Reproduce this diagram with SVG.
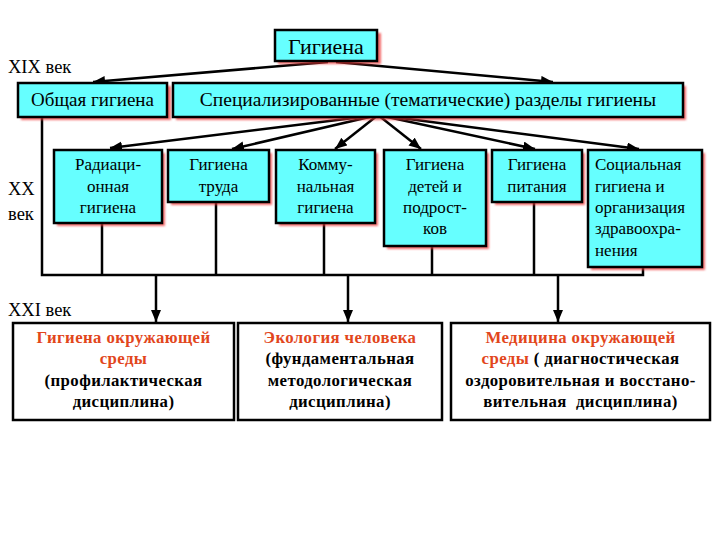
<svg xmlns="http://www.w3.org/2000/svg" width="720" height="540" viewBox="0 0 720 540">
<style>
.box{fill:#66FFFF;stroke:#000;stroke-width:2.5}
.sh{fill:#f03a3a;opacity:0.75}
.wb{fill:#fff;stroke:#000;stroke-width:2.5}
text{font-family:'Liberation Serif','DejaVu Serif',serif;fill:#000}
.m{font-size:17px;text-anchor:middle}
.b{font-size:16.8px;font-weight:bold;text-anchor:middle;letter-spacing:0.4px}
.r{fill:#e2461c}
.ln{stroke:#000;stroke-width:2.5;fill:none}
.ar{stroke:#000;stroke-width:2.5;fill:none;marker-end:url(#ah)}
</style>
<defs>
<marker id="ah" markerUnits="userSpaceOnUse" markerWidth="14" markerHeight="12" refX="12" refY="5" orient="auto">
<path d="M0,0 L12,5 L0,10 Z" fill="#000"/>
</marker>
<filter id="blur" x="-10%" y="-10%" width="120%" height="120%"><feGaussianBlur stdDeviation="1.2"/></filter>
</defs>
<rect width="720" height="540" fill="#fff"/>

<g id="connectors">
<path class="ar" d="M328,62 L93,82"/>
<path class="ar" d="M336,62 L553,82"/>
<path class="ar" d="M378,115 L110,148"/>
<path class="ar" d="M378,115 L232,149"/>
<path class="ar" d="M378,115 L335,149"/>
<path class="ar" d="M378,115 L421,149"/>
<path class="ar" d="M378,115 L535,149"/>
<path class="ar" d="M378,115 L639,149"/>
<path class="ln" d="M42,117 V275 H643 V264"/>
<path class="ln" d="M102,223 V275 M216,202 V275 M324,223 V275 M432,246 V275 M534,202 V275"/>
<path class="ar" d="M156,275 V322"/>
<path class="ar" d="M348,275 V322"/>
<path class="ar" d="M558,275 V322"/>
</g>

<g id="labels" font-size="18.5">
<text x="8" y="73">XIX век</text>
<text x="8" y="195">XX</text>
<text x="8" y="220">век</text>
<text x="8" y="316">XXI век</text>
</g>

<g id="n-gigiena">
<rect class="sh" x="278" y="33" width="103" height="31" filter="url(#blur)"/>
<rect class="box" x="275" y="30" width="102" height="31"/>
<text x="326" y="54" font-size="22" text-anchor="middle">Гигиена</text>
</g>

<g id="n-obshaya">
<rect class="sh" x="21" y="86" width="150" height="34" filter="url(#blur)"/>
<rect class="box" x="18" y="83" width="149" height="34"/>
<text x="92.5" y="106" font-size="19" text-anchor="middle">Общая гигиена</text>
</g>

<g id="n-spec">
<rect class="sh" x="176" y="86" width="510" height="34" filter="url(#blur)"/>
<rect class="box" x="173" y="83" width="510" height="34"/>
<text x="428" y="106" font-size="19.5" text-anchor="middle">Специализированные (тематические) разделы гигиены</text>
</g>

<g id="n-rad">
<rect class="sh" x="57" y="153" width="108" height="73" filter="url(#blur)"/>
<rect class="box" x="54" y="150" width="108" height="73"/>
<text class="m" x="108" y="170">Радиаци-</text>
<text class="m" x="108" y="192">онная</text>
<text class="m" x="108" y="213">гигиена</text>
</g>

<g id="n-trud">
<rect class="sh" x="171" y="153" width="101" height="52" filter="url(#blur)"/>
<rect class="box" x="168" y="150" width="101" height="52"/>
<text class="m" x="218.5" y="170">Гигиена</text>
<text class="m" x="218.5" y="192">труда</text>
</g>

<g id="n-komm">
<rect class="sh" x="279" y="153" width="99" height="73" filter="url(#blur)"/>
<rect class="box" x="276" y="150" width="99" height="73"/>
<text class="m" x="325.5" y="170">Комму-</text>
<text class="m" x="325.5" y="192">нальная</text>
<text class="m" x="325.5" y="213">гигиена</text>
</g>

<g id="n-deti">
<rect class="sh" x="387" y="153" width="102" height="96" filter="url(#blur)"/>
<rect class="box" x="384" y="150" width="102" height="96"/>
<text class="m" x="435" y="170">Гигиена</text>
<text class="m" x="435" y="192">детей и</text>
<text class="m" x="435" y="213">подрост-</text>
<text class="m" x="435" y="234">ков</text>
</g>

<g id="n-pitan">
<rect class="sh" x="495" y="153" width="90" height="52" filter="url(#blur)"/>
<rect class="box" x="492" y="150" width="90" height="52"/>
<text class="m" x="537" y="170">Гигиена</text>
<text class="m" x="537" y="192">питания</text>
</g>

<g id="n-soc" font-size="17">
<rect class="sh" x="591" y="153" width="114" height="117" filter="url(#blur)"/>
<rect class="box" x="588" y="150" width="114" height="117"/>
<text x="595" y="170">Социальная</text>
<text x="595" y="192">гигиена и</text>
<text x="595" y="213">организация</text>
<text x="595" y="234">здравоохра-</text>
<text x="595" y="256">нения</text>
</g>

<g id="n-env">
<rect class="wb" x="13" y="323" width="221" height="97"/>
<text class="b r" x="123.5" y="343">Гигиена окружающей</text>
<text class="b r" x="123.5" y="364">среды</text>
<text class="b" x="123.5" y="386">(профилактическая</text>
<text class="b" x="123.5" y="407">дисциплина)</text>
</g>

<g id="n-eco">
<rect class="wb" x="238" y="323" width="204" height="97"/>
<text class="b r" x="340" y="343">Экология человека</text>
<text class="b" x="340" y="364">(фундаментальная</text>
<text class="b" x="340" y="386">методологическая</text>
<text class="b" x="340" y="407">дисциплина)</text>
</g>

<g id="n-med">
<rect class="wb" x="451" y="323" width="259" height="97"/>
<text class="b r" x="580.5" y="343">Медицина окружающей</text>
<text class="b" x="580.5" y="364"><tspan class="r">среды</tspan> ( диагностическая</text>
<text class="b" x="580.5" y="386">оздоровительная и восстано-</text>
<text class="b" x="580.5" y="407" xml:space="preserve">вительная  дисциплина)</text>
</g>
</svg>
